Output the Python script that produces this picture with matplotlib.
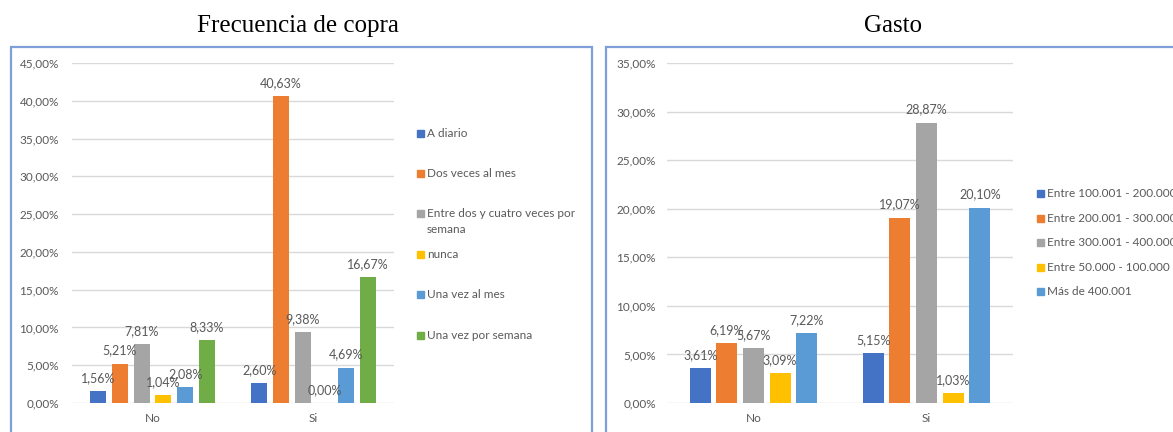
import numpy as np
import matplotlib.pyplot as plt
from matplotlib.patches import Rectangle
from matplotlib.ticker import FuncFormatter

grupos = ['No', 'Si']

frec_series = ['A diario', 'Dos veces al mes', 'Entre dos y cuatro veces por\nsemana',
               'nunca', 'Una vez al mes', 'Una vez por semana']
frec_no = [1.56, 5.21, 7.81, 1.04, 2.08, 8.33]
frec_si = [2.60, 40.63, 9.38, 0.00, 4.69, 16.67]

gasto_series = ['Entre 100.001 - 200.000', 'Entre 200.001 - 300.000', 'Entre 300.001 - 400.000',
                'Entre 50.000 - 100.000', 'Más de 400.001']
gasto_no = [3.61, 6.19, 5.67, 3.09, 7.22]
gasto_si = [5.15, 19.07, 28.87, 1.03, 20.10]

colores = ['#4472C4', '#ED7D31', '#A5A5A5', '#FFC000', '#5B9BD5', '#70AD47']
gris = '#595959'
fuente = ['Lato', 'DejaVu Sans']

W, H = 1173, 432
fig = plt.figure(figsize=(W / 100, H / 100), dpi=100)


def px(x0, y0, x1, y1):
    # pixel box (top-left origin) -> figure fraction rect
    return [x0 / W, 1 - y1 / H, (x1 - x0) / W, (y1 - y0) / H]


def pct(v):
    return f'{v:.2f}'.replace('.', ',') + '%'


def barras(ax, series, no, si, paso, ancho, ymax, ystep):
    x = np.arange(len(grupos))
    n = len(series)
    for i in range(n):
        vals = [no[i], si[i]]
        pos = x + (i - (n - 1) / 2) * paso
        ax.bar(pos, vals, width=ancho, color=colores[i], zorder=3)
        for xp, v in zip(pos, vals):
            ax.annotate(pct(v), (xp, v), xytext=(0, 9.5), textcoords='offset points',
                        ha='center', va='center', fontsize=9, color=gris,
                        family=fuente, zorder=4)
    ax.set_xlim(-0.5, 1.5)
    ax.set_ylim(0, ymax)
    ax.set_yticks(np.arange(0, ymax + 0.01, ystep))
    ax.yaxis.set_major_formatter(FuncFormatter(lambda v, _: pct(v)))
    ax.set_xticks(x)
    ax.set_xticklabels(grupos)
    ax.grid(axis='y', color='#D9D9D9', linewidth=1.0, zorder=0)
    for s in ax.spines.values():
        s.set_visible(False)
    ax.tick_params(length=0, colors=gris, labelsize=8.5)
    for t in ax.get_xticklabels() + ax.get_yticklabels():
        t.set_family(fuente)


# recuadros de cada grafico
for x0, x1 in [(11, 592), (606, 1190)]:
    fig.patches.append(Rectangle((x0 / W, -0.05), (x1 - x0) / W, 1.05 - 47 / H,
                                 transform=fig.transFigure, fill=False,
                                 edgecolor='#7F9FD9', linewidth=1.6))

ax1 = fig.add_axes(px(72, 63, 394, 403))
barras(ax1, frec_series, frec_no, frec_si, 0.135, 0.1, 45, 5)
ax1.tick_params(axis='y', pad=9.5)
ax1.tick_params(axis='x', pad=7)

ax2 = fig.add_axes(px(667, 63, 1013, 403))
barras(ax2, gasto_series, gasto_no, gasto_si, 0.154, 0.121, 35, 5)
ax2.tick_params(axis='y', pad=8)
ax2.tick_params(axis='x', pad=7)

fig.text(298 / W, 1 - 26 / H, 'Frecuencia de copra', ha='center', va='center',
         family='Liberation Serif', fontsize=18, color='black')
fig.text(893 / W, 1 - 26 / H, 'Gasto', ha='center', va='center',
         family='Liberation Serif', fontsize=18, color='black')

# leyendas
def leyenda(series, xm, ys):
    for lab, col, y in zip(series, colores, ys):
        fig.patches.append(Rectangle(((xm) / W, 1 - (y + 3.5) / H), 7 / W, 7 / H,
                                     transform=fig.transFigure, color=col))
        fig.text((xm + 10) / W, 1 - (y - 5) / H, lab, ha='left', va='top',
                 fontsize=8.5, color=gris, family=fuente, linespacing=1.55)


leyenda(frec_series, 417, [133, 173, 213, 254, 294, 335])
leyenda(gasto_series, 1037, [193, 218, 242, 267, 291])

fig.savefig('out.png', dpi=100)
